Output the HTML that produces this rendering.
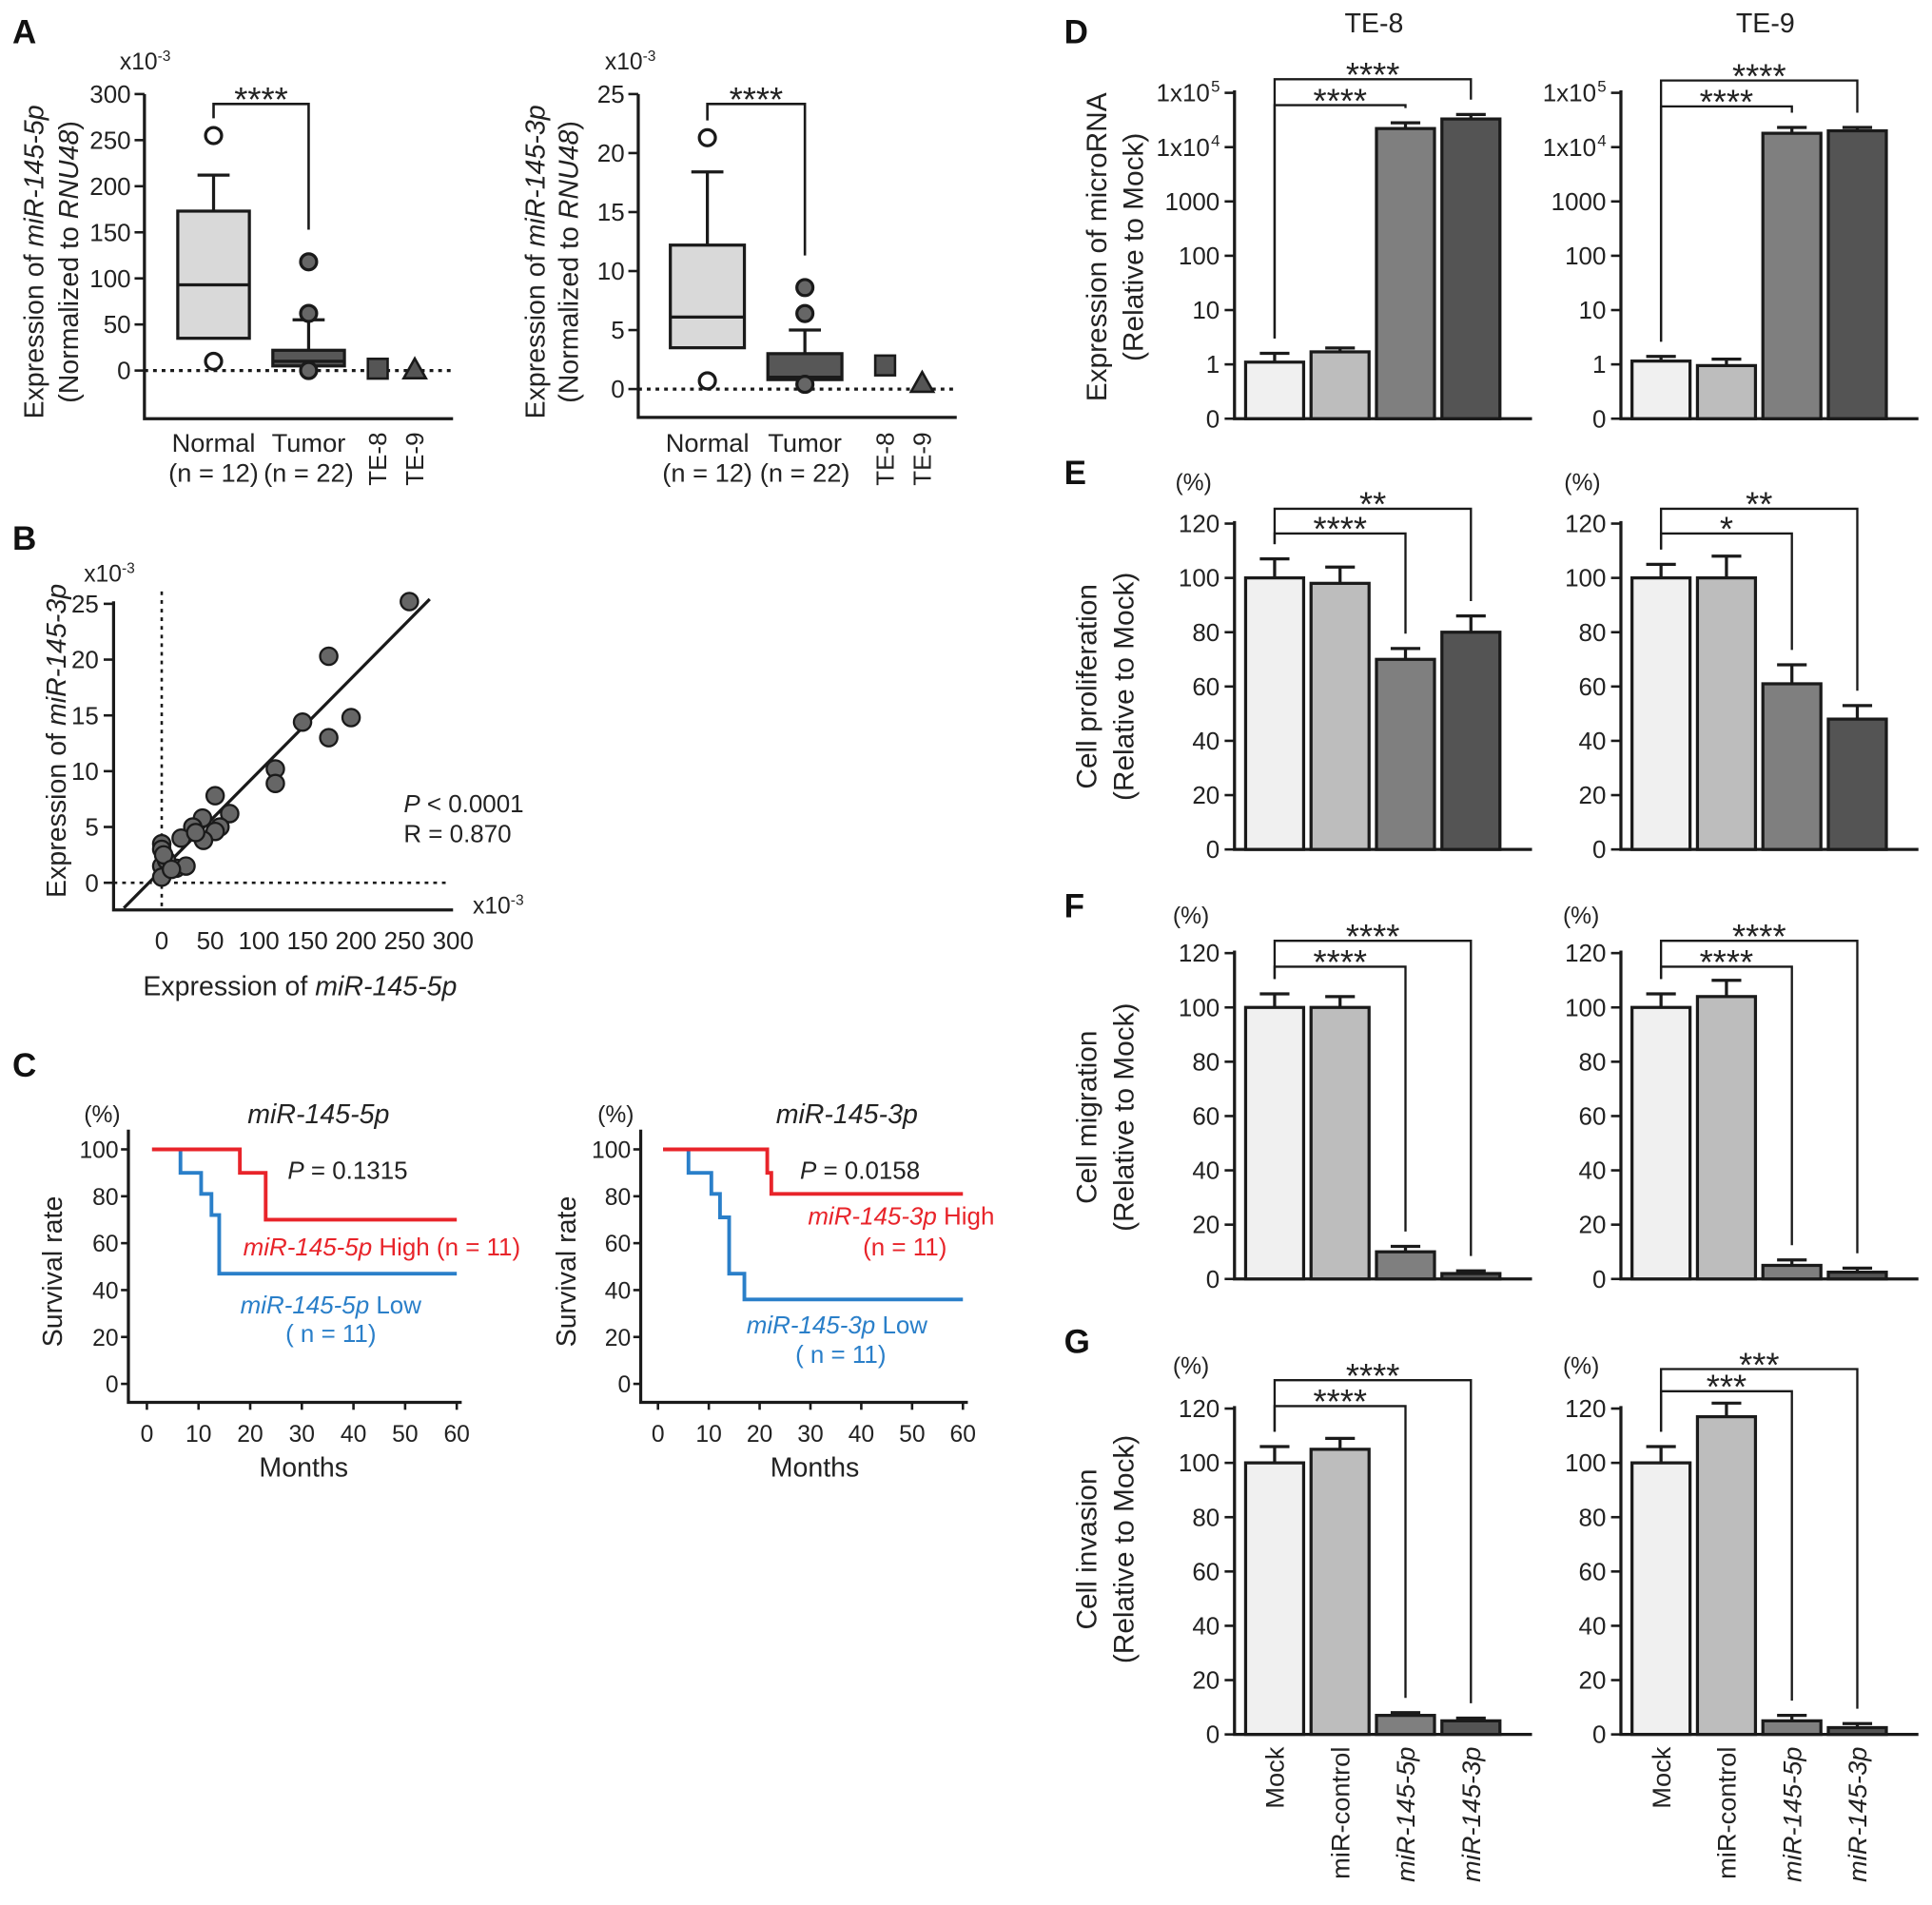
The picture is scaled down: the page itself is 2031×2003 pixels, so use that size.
<!DOCTYPE html>
<html><head><meta charset="utf-8"><style>
html,body{margin:0;padding:0;background:#fff}
svg{display:block;font-family:"Liberation Sans",Arial,sans-serif}
</style></head><body>
<svg id="fig" width="2031" height="2003" viewBox="0 0 1565 1543" xmlns="http://www.w3.org/2000/svg">
<g font-size="27" font-weight="bold" fill="#111">
<text x="10" y="35">A</text>
<text x="10" y="445">B</text>
<text x="10" y="872">C</text>
<text x="862" y="35">D</text>
<text x="862" y="392">E</text>
<text x="862" y="743">F</text>
<text x="862" y="1096">G</text>
</g>
<g font-size="22" fill="#222" text-anchor="middle">
<text transform="translate(35,212) rotate(-90)">Expression of <tspan font-style="italic">miR-145-5p</tspan></text>
<text transform="translate(63,212) rotate(-90)">(Normalized to <tspan font-style="italic">RNU48</tspan>)</text>
<text transform="translate(441,212) rotate(-90)">Expression of <tspan font-style="italic">miR-145-3p</tspan></text>
<text transform="translate(468,212) rotate(-90)">(Normalized to <tspan font-style="italic">RNU48</tspan>)</text>
<text transform="translate(53,600) rotate(-90)">Expression of <tspan font-style="italic">miR-145-3p</tspan></text>
<text x="243" y="806">Expression of <tspan font-style="italic">miR-145-5p</tspan></text>
<text transform="translate(50,1030) rotate(-90)">Survival rate</text>
<text transform="translate(466,1030) rotate(-90)">Survival rate</text>
<text x="246" y="1196">Months</text>
<text x="660" y="1196">Months</text>
<text x="258" y="910" font-style="italic">miR-145-5p</text>
<text x="686" y="910" font-style="italic">miR-145-3p</text>
<text x="1113" y="26">TE-8</text>
<text x="1430" y="26">TE-9</text>
<text transform="translate(896,200) rotate(-90)" font-size="23">Expression of microRNA</text>
<text transform="translate(926,200) rotate(-90)" font-size="23">(Relative to Mock)</text>
<text transform="translate(888,556) rotate(-90)" font-size="23">Cell proliferation</text>
<text transform="translate(918,556) rotate(-90)" font-size="23">(Relative to Mock)</text>
<text transform="translate(888,905) rotate(-90)" font-size="23">Cell migration</text>
<text transform="translate(918,905) rotate(-90)" font-size="23">(Relative to Mock)</text>
<text transform="translate(888,1255) rotate(-90)" font-size="23">Cell invasion</text>
<text transform="translate(918,1255) rotate(-90)" font-size="23">(Relative to Mock)</text>
</g>
<g font-size="19" fill="#222">
<text x="97" y="56">x10<tspan font-size="12" dy="-7">-3</tspan></text>
<text x="490" y="56">x10<tspan font-size="12" dy="-7">-3</tspan></text>
<text x="68" y="471">x10<tspan font-size="12" dy="-7">-3</tspan></text>
<text x="383" y="740">x10<tspan font-size="12" dy="-7">-3</tspan></text>
<text x="327" y="658" font-size="20"><tspan font-style="italic">P</tspan> &lt; 0.0001</text>
<text x="327" y="682" font-size="20">R = 0.870</text>
<text x="68" y="909">(%)</text>
<text x="484" y="909">(%)</text>
<text x="233" y="955" font-size="20"><tspan font-style="italic">P</tspan> = 0.1315</text>
<text x="648" y="955" font-size="20"><tspan font-style="italic">P</tspan> = 0.0158</text>
<text x="197" y="1017" font-size="20" fill="#e8242a"><tspan font-style="italic">miR-145-5p</tspan> High (n = 11)</text>
<text x="268" y="1064" font-size="20" fill="#2a7fc9" text-anchor="middle"><tspan font-style="italic">miR-145-5p</tspan> Low</text>
<text x="268" y="1087" font-size="20" fill="#2a7fc9" text-anchor="middle">( n = 11)</text>
<text x="730" y="992" font-size="20" fill="#e8242a" text-anchor="middle"><tspan font-style="italic">miR-145-3p</tspan> High</text>
<text x="733" y="1017" font-size="20" fill="#e8242a" text-anchor="middle">(n = 11)</text>
<text x="678" y="1080" font-size="20" fill="#2a7fc9" text-anchor="middle"><tspan font-style="italic">miR-145-3p</tspan> Low</text>
<text x="681" y="1104" font-size="20" fill="#2a7fc9" text-anchor="middle">( n = 11)</text>
<text x="952" y="397">(%)</text>
<text x="1267" y="397">(%)</text>
<text x="950" y="748">(%)</text>
<text x="1266" y="748">(%)</text>
<text x="950" y="1113">(%)</text>
<text x="1266" y="1113">(%)</text>
</g>
</svg>
<script>
// ---------- Panel A data ----------
const a5Normal = [10, 35, 93, 173, 212];      // lo, q1, median, q3, hi
const a5Tumor = [0, 5, 10, 22, 55];
const a5NormalOut = [255, 10];
const a5TumorOut = [118, 62, 0];
const a5Cells = [2, 1];                        // TE-8, TE-9
const a5Ticks = [0, 50, 100, 150, 200, 250, 300];
const a3Normal = [0.7, 3.5, 6.1, 12.2, 18.4];
const a3Tumor = [0.4, 0.8, 1.0, 3.0, 5.0];
const a3NormalOut = [21.3, 0.7];
const a3TumorOut = [8.6, 6.4, 0.4];
const a3Cells = [2.0, 0.5];
const a3Ticks = [0, 5, 10, 15, 20, 25];
// ---------- Panel B data ----------
const bX5p = [255, 172, 195, 172, 145, 117, 117, 55, 42, 70, 60, 55, 32, 43, 20, 0, 0, 0, 0, 15, 25, 5, 35, 2, 10];
const bY3p = [25.2, 20.3, 14.8, 13.0, 14.4, 10.2, 8.9, 7.8, 5.8, 6.2, 5.0, 4.6, 5.0, 3.8, 4.0, 3.5, 3.0, 1.5, 0.5, 1.3, 1.5, 2.0, 4.5, 2.5, 1.2];
const bXTicks = [0, 50, 100, 150, 200, 250, 300];
const bYTicks = [0, 5, 10, 15, 20, 25];
const bRegSlope = 0.0879;
const bRegIntercept = 1.16;
const bRegRange = [-39, 276];
// ---------- Panel C data ----------
const c5HighT = [1, 18, 23]; const c5HighS = [100, 90, 70];
const c5LowT = [1, 6.5, 10.5, 12.5, 14]; const c5LowS = [100, 90, 81, 72, 47];
const c3HighT = [1, 21.5, 22.3]; const c3HighS = [100, 90, 81];
const c3LowT = [1, 6, 10.5, 12.2, 14, 17]; const c3LowS = [100, 90, 81, 71, 47, 36];
const cMonthTicks = [0, 10, 20, 30, 40, 50, 60];
const cRateTicks = [0, 20, 40, 60, 80, 100];
// ---------- Panels D-G data ----------
const barCats = ['Mock', 'miR-control', 'miR-145-5p', 'miR-145-3p'];
const dTE8 = [1.1, 1.7, 22000, 33000]; const dTE8Hi = [1.6, 2.0, 28000, 40000];
const dTE9 = [1.15, 0.95, 18000, 20000]; const dTE9Hi = [1.4, 1.25, 23000, 23000];
const dTicks = [0, 1, 10, 100, 1000, 10000, 100000];
const eTE8 = [100, 98, 70, 80]; const eTE8Hi = [107, 104, 74, 86];
const eTE9 = [100, 100, 61, 48]; const eTE9Hi = [105, 108, 68, 53];
const fTE8 = [100, 100, 10, 2]; const fTE8Hi = [105, 104, 12, 3];
const fTE9 = [100, 104, 5, 2.5]; const fTE9Hi = [105, 110, 7, 4];
const gTE8 = [100, 105, 7, 5]; const gTE8Hi = [106, 109, 8, 6];
const gTE9 = [100, 117, 5, 2.5]; const gTE9Hi = [106, 122, 7, 4];
const pctTicks = [0, 20, 40, 60, 80, 100, 120];

const NS = 'http://www.w3.org/2000/svg';
const svg = document.getElementById('fig');
function el(tag, a, p, t) {
  const e = document.createElementNS(NS, tag);
  for (const k in a) e.setAttribute(k, a[k]);
  if (t !== undefined) e.textContent = t;
  (p || svg).appendChild(e);
  return e;
}
const INK = '#1a1a1a';
const TICK_FS = 20;
const STAR_FS = 28;

// ---------- Box panels ----------
function boxPanel(c) {
  const g = el('g', {});
  
  
  const y = v => c.y0 - v * c.ky;
  const top = y(c.ticks[c.ticks.length - 1]);
  const ax = el('path', { d: `M${c.ax},${top} V${c.bottom} H${c.xEnd}`, fill: 'none', stroke: INK, 'stroke-width': 2.5 }, g);
  
  
  c.ticks.forEach(t => {
    const tk = el('line', { x1: c.ax - 8, x2: c.ax, y1: y(t), y2: y(t), stroke: INK, 'stroke-width': 2 }, g);
    
    
    const tl = el('text', { x: c.ax - 11, y: y(t) + 7, 'text-anchor': 'end', 'font-size': TICK_FS, fill: '#222' }, g, String(t));
    
    
  });
  const zl = el('line', { x1: c.ax, x2: c.xEnd, y1: y(0), y2: y(0), stroke: INK, 'stroke-width': 2.5, 'stroke-dasharray': '3,4' }, g);
  
  
  const boxes = [[c.normal, c.nOut, '#d9d9d9', c.cx[0], '#fff', 'normal'], [c.tumor, c.tOut, '#575757', c.cx[1], '#666', 'tumor']];
  boxes.forEach(([s, outs, fill, cx, ofill, nm]) => {
    const w = el('path', { d: `M${cx},${y(s[3])} V${y(s[4])} M${cx - 13},${y(s[4])} H${cx + 13}`, stroke: INK, 'stroke-width': 2.5, fill: 'none' }, g);
    
    
    const b = el('rect', { x: cx - c.hw, y: y(s[3]), width: 2 * c.hw, height: y(s[1]) - y(s[3]), fill: fill, stroke: INK, 'stroke-width': 2.5 }, g);
    
    
    const m = el('line', { x1: cx - c.hw, x2: cx + c.hw, y1: y(s[2]), y2: y(s[2]), stroke: INK, 'stroke-width': 2.5 }, g);
    
    
    outs.forEach(o => {
      const ci = el('circle', { cx: cx, cy: y(o), r: 6.5, fill: ofill, stroke: INK, 'stroke-width': 2.5 }, g);
      
      
    });
  });
  const sq = el('rect', { x: c.cx[2] - 8, y: y(c.cells[0]) - 8, width: 16, height: 16, fill: '#555', stroke: INK, 'stroke-width': 2 }, g);
  
  
  const ty = y(c.cells[1]);
  const tr = el('path', { d: `M${c.cx[3]},${ty - 9} L${c.cx[3] + 9},${ty + 7} L${c.cx[3] - 9},${ty + 7} Z`, fill: '#555', stroke: INK, 'stroke-width': 2 }, g);
  
  
  const l1 = y(Math.max(...c.nOut)) - 14, l2 = y(Math.max(...c.tOut)) - 26;
  const br = el('path', { d: `M${c.cx[0]},${l1} V${c.brY} H${c.cx[1]} V${l2}`, fill: 'none', stroke: INK, 'stroke-width': 2 }, g);
  
  
  const st = el('text', { x: (c.cx[0] + c.cx[1]) / 2, y: c.brY + 6, 'text-anchor': 'middle', 'font-size': STAR_FS, fill: '#222' }, g, '****');
  
  
  const labs = [['Normal', '(n = 12)'], ['Tumor', '(n = 22)']];
  labs.forEach((L, i) => {
    const t1 = el('text', { x: c.cx[i], y: 366, 'text-anchor': 'middle', 'font-size': 21, fill: '#222' }, g, L[0]);
    
    
    const t2 = el('text', { x: c.cx[i], y: 390, 'text-anchor': 'middle', 'font-size': 21, fill: '#222' }, g, L[1]);
    
    
  });
  ['TE-8', 'TE-9'].forEach((L, i) => {
    const t = el('text', { transform: `translate(${c.cx[2 + i] + 7},350) rotate(-90)`, 'text-anchor': 'end', 'font-size': 20, fill: '#222' }, g, L);
    
    
  });
}
boxPanel({ name: 'panel-a-5p', ax: 117, bottom: 339, xEnd: 367, y0: 300, ky: 224 / 300, ticks: a5Ticks, cx: [173, 250, 306, 336], hw: 29, normal: a5Normal, tumor: a5Tumor, nOut: a5NormalOut, tOut: a5TumorOut, cells: a5Cells, brY: 84 });
boxPanel({ name: 'panel-a-3p', ax: 517, bottom: 338, xEnd: 775, y0: 315, ky: 239 / 25, ticks: a3Ticks, cx: [573, 652, 717, 747], hw: 30, normal: a3Normal, tumor: a3Tumor, nOut: a3NormalOut, tOut: a3TumorOut, cells: a3Cells, brY: 84 });

// ---------- Panel B scatter ----------
(function () {
  const g = el('g', {});
  
  
  const X = v => 131 + v * (236 / 300), Y = v => 715 - v * (226 / 25);
  const ax = el('path', { d: `M92,${Y(25) - 2} V737 H367`, fill: 'none', stroke: INK, 'stroke-width': 2.5 }, g);
  
  
  bYTicks.forEach(t => {
    const tk = el('line', { x1: 84, x2: 92, y1: Y(t), y2: Y(t), stroke: INK, 'stroke-width': 2 }, g);
    
    
    const tl = el('text', { x: 80, y: Y(t) + 7, 'text-anchor': 'end', 'font-size': TICK_FS, fill: '#222' }, g, String(t));
    
    
  });
  bXTicks.forEach(t => {
    const tl = el('text', { x: X(t), y: 769, 'text-anchor': 'middle', 'font-size': TICK_FS, fill: '#222' }, g, String(t));
    
    
  });
  const dv = el('line', { x1: X(0), x2: X(0), y1: Y(25) - 10, y2: 737, stroke: INK, 'stroke-width': 2, 'stroke-dasharray': '3,4' }, g);
  
  
  const dh = el('line', { x1: 92, x2: 365, y1: Y(0), y2: Y(0), stroke: INK, 'stroke-width': 2, 'stroke-dasharray': '3,4' }, g);
  
  
  const rl = el('line', { x1: X(bRegRange[0]), y1: Y(bRegIntercept + bRegSlope * bRegRange[0]), x2: X(bRegRange[1]), y2: Y(bRegIntercept + bRegSlope * bRegRange[1]), stroke: INK, 'stroke-width': 2.5 }, g);
  
  
  bX5p.forEach((xv, i) => {
    const p = el('circle', { cx: X(xv), cy: Y(bY3p[i]), r: 7, fill: '#666', stroke: INK, 'stroke-width': 1.8 }, g);
    
    
  });
})();

// ---------- Panel C survival ----------
function kmPanel(c) {
  const g = el('g', {});
  
  
  const X = m => c.x0 + m * c.kx, Y = v => 1121 - v * 1.9;
  const ax = el('path', { d: `M${c.ax},915 V1136 H${X(60) + 4}`, fill: 'none', stroke: INK, 'stroke-width': 2.5 }, g);
  
  
  cRateTicks.forEach(t => {
    const tk = el('line', { x1: c.ax - 6, x2: c.ax, y1: Y(t), y2: Y(t), stroke: INK, 'stroke-width': 2 }, g);
    
    
    const tl = el('text', { x: c.ax - 8, y: Y(t) + 7, 'text-anchor': 'end', 'font-size': 19, fill: '#222' }, g, String(t));
    
    
  });
  cMonthTicks.forEach(t => {
    const tk = el('line', { x1: X(t), x2: X(t), y1: 1136, y2: 1142, stroke: INK, 'stroke-width': 2 }, g);
    
    
    const tl = el('text', { x: X(t), y: 1168, 'text-anchor': 'middle', 'font-size': 19, fill: '#222' }, g, String(t));
    
    
  });
  [[c.lowT, c.lowS, '#2a7fc9', 'low-curve'], [c.highT, c.highS, '#e8242a', 'high-curve']].forEach(([T, S, col, nm]) => {
    let d = `M${X(T[0])},${Y(S[0])}`;
    for (let i = 1; i < T.length; i++) d += ` H${X(T[i])} V${Y(S[i])}`;
    d += ` H${X(60)}`;
    const p = el('path', { d: d, fill: 'none', stroke: col, 'stroke-width': 3 }, g);
    
    
  });
}
kmPanel({ name: 'panel-c-5p', ax: 104, x0: 119, kx: 251 / 60, highT: c5HighT, highS: c5HighS, lowT: c5LowT, lowS: c5LowS });
kmPanel({ name: 'panel-c-3p', ax: 519, x0: 533, kx: 247 / 60, highT: c3HighT, highS: c3HighS, lowT: c3LowT, lowS: c3LowS });

// ---------- Bar panels ----------
const barFills = ['#f0f0f0', '#bdbdbd', '#7f7f7f', '#545454'];
function barPanel(c) {
  const g = el('g', {});
  
  
  let Y, bottom, top;
  if (c.log) {
    Y = v => v <= 0 ? c.y1 + 44 : c.y1 - Math.log10(v) * 44;
    bottom = c.y1 + 44; top = Y(100000) - 2;
  } else {
    Y = v => c.y0 - v * 2.2;
    bottom = c.y0; top = Y(120) - 2;
  }
  const bx = i => c.ax + 9 + i * 53;
  const ax = el('path', { d: `M${c.ax},${top} V${bottom} H${c.ax + 241}`, fill: 'none', stroke: INK, 'stroke-width': 2.5 }, g);
  
  
  c.ticks.forEach(t => {
    const tk = el('line', { x1: c.ax - 8, x2: c.ax, y1: Y(t), y2: Y(t), stroke: INK, 'stroke-width': 2 }, g);
    
    
    let lab = String(t), sup = null;
    if (c.log && t >= 10000) { lab = '1x10'; sup = String(Math.round(Math.log10(t))); }
    const tl = el('text', { x: c.ax - 12 - (sup ? 8 : 0), y: Y(t) + 7, 'text-anchor': 'end', 'font-size': TICK_FS, fill: '#222' }, g, lab);
    
    
    if (sup) {
      const ts = el('text', { x: c.ax - 19, y: Y(t) - 1, 'text-anchor': 'start', 'font-size': 13, fill: '#222' }, g, sup);
      
      
    }
  });
  c.vals.forEach((v, i) => {
    const cx = bx(i) + 23.5;
    const e = el('path', { d: `M${cx},${Y(v)} V${Y(c.hi[i])} M${cx - 12},${Y(c.hi[i])} H${cx + 12}`, stroke: INK, 'stroke-width': 2.5, fill: 'none' }, g);
    
    
    const r = el('rect', { x: bx(i), y: Y(v), width: 47, height: bottom - Y(v), fill: barFills[i], stroke: INK, 'stroke-width': 2.5 }, g);
    
    
  });
  c.brackets.forEach(([a, b, ly, lab]) => {
    const xa = bx(a) + 23.5, xb = bx(b) + 23.5;
    const p = el('path', { d: `M${xa},${Y(c.hi[a]) - 12} V${ly} H${xb} V${Y(c.hi[b]) - 12}`, fill: 'none', stroke: INK, 'stroke-width': 1.8 }, g);
    
    
    const s = el('text', { x: (xa + xb) / 2, y: ly + 6, 'text-anchor': 'middle', 'font-size': STAR_FS, fill: '#222' }, g, lab);
    
    
  });
  if (c.xlabels) {
    barCats.forEach((L, i) => {
      const t = el('text', { transform: `translate(${bx(i) + 31},1415) rotate(-90)`, 'text-anchor': 'end', 'font-size': 21, fill: '#222', 'font-style': i >= 2 ? 'italic' : 'normal' }, g, L);
      
      
    });
  }
}
barPanel({ name: 'panel-d-te8', ax: 1000, log: true, y1: 295, ticks: dTicks, vals: dTE8, hi: dTE8Hi, brackets: [[0, 2, 85, '****'], [0, 3, 64, '****']] });
barPanel({ name: 'panel-d-te9', ax: 1313, log: true, y1: 295, ticks: dTicks, vals: dTE9, hi: dTE9Hi, brackets: [[0, 2, 86, '****'], [0, 3, 65, '****']] });
barPanel({ name: 'panel-e-te8', ax: 1000, y0: 688, ticks: pctTicks, vals: eTE8, hi: eTE8Hi, brackets: [[0, 2, 432, '****'], [0, 3, 412, '**']] });
barPanel({ name: 'panel-e-te9', ax: 1313, y0: 688, ticks: pctTicks, vals: eTE9, hi: eTE9Hi, brackets: [[0, 2, 432, '*'], [0, 3, 412, '**']] });
barPanel({ name: 'panel-f-te8', ax: 1000, y0: 1036, ticks: pctTicks, vals: fTE8, hi: fTE8Hi, brackets: [[0, 2, 783, '****'], [0, 3, 762, '****']] });
barPanel({ name: 'panel-f-te9', ax: 1313, y0: 1036, ticks: pctTicks, vals: fTE9, hi: fTE9Hi, brackets: [[0, 2, 783, '****'], [0, 3, 762, '****']] });
barPanel({ name: 'panel-g-te8', ax: 1000, y0: 1405, ticks: pctTicks, vals: gTE8, hi: gTE8Hi, brackets: [[0, 2, 1139, '****'], [0, 3, 1118, '****']], xlabels: true });
barPanel({ name: 'panel-g-te9', ax: 1313, y0: 1405, ticks: pctTicks, vals: gTE9, hi: gTE9Hi, brackets: [[0, 2, 1127, '***'], [0, 3, 1109, '***']], xlabels: true });
</script>
</body></html>
